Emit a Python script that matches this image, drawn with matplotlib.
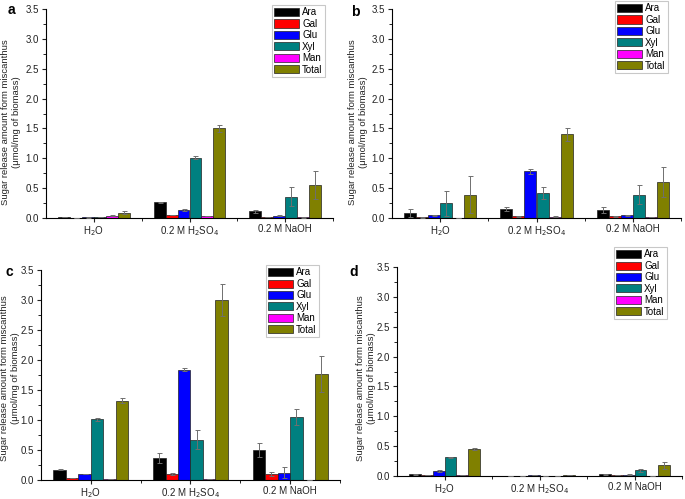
import matplotlib
matplotlib.use("Agg")
import matplotlib.pyplot as plt
import numpy as np
from matplotlib.ticker import MultipleLocator, FormatStrFormatter, FixedLocator

plt.rcParams['font.family'] = ['Liberation Sans', 'DejaVu Sans']

treatments = ["H$_2$O", "0.2 M H$_2$SO$_4$", "0.2 M NaOH"]
sugars = ["Ara", "Gal", "Glu", "Xyl", "Man", "Total"]
colors = ["#000000", "#ff0000", "#0000ff", "#008080", "#ff00ff", "#808000"]
ylabel_text = "Sugar release amount form miscanthus\n(\u03bcmol/mg of biomass)"

# values[sugar] = [H2O, H2SO4, NaOH]
a_vals = {"Ara": [0.01, 0.26, 0.11], "Gal": [0.005, 0.05, 0.02], "Glu": [0.015, 0.14, 0.04],
          "Xyl": [0.015, 1.01, 0.36], "Man": [0.04, 0.035, 0.015], "Total": [0.09, 1.50, 0.55]}
a_errs = {"Ara": [0.0, 0.01, 0.025], "Gal": [0.0, 0.0, 0.005], "Glu": [0.01, 0.015, 0.005],
          "Xyl": [0.005, 0.03, 0.16], "Man": [0.01, 0.0, 0.01], "Total": [0.02, 0.06, 0.23]}

b_vals = {"Ara": [0.08, 0.145, 0.13], "Gal": [0.01, 0.03, 0.03], "Glu": [0.045, 0.78, 0.045],
          "Xyl": [0.25, 0.42, 0.39], "Man": [0.0, 0.025, 0.02], "Total": [0.39, 1.40, 0.61]}
b_errs = {"Ara": [0.07, 0.035, 0.05], "Gal": [0.005, 0.005, 0.005], "Glu": [0.005, 0.04, 0.01],
          "Xyl": [0.21, 0.10, 0.16], "Man": [0.0, 0.005, 0.005], "Total": [0.31, 0.11, 0.25]}

c_vals = {"Ara": [0.17, 0.37, 0.50], "Gal": [0.035, 0.10, 0.10], "Glu": [0.095, 1.84, 0.12],
          "Xyl": [1.01, 0.67, 1.05], "Man": [0.01, 0.02, 0.0], "Total": [1.32, 3.00, 1.77]}
c_errs = {"Ara": [0.01, 0.08, 0.12], "Gal": [0.0, 0.02, 0.03], "Glu": [0.0, 0.02, 0.09],
          "Xyl": [0.03, 0.16, 0.13], "Man": [0.0, 0.005, 0.0], "Total": [0.04, 0.27, 0.30]}

d_vals = {"Ara": [0.03, 0.0, 0.03], "Gal": [0.015, 0.0, 0.015], "Glu": [0.08, 0.015, 0.025],
          "Xyl": [0.31, 0.0, 0.095], "Man": [0.01, 0.0, 0.005], "Total": [0.45, 0.02, 0.18]}
d_errs = {"Ara": [0.005, 0.0, 0.005], "Gal": [0.0, 0.0, 0.0], "Glu": [0.02, 0.005, 0.005],
          "Xyl": [0.01, 0.0, 0.02], "Man": [0.0, 0.0, 0.0], "Total": [0.02, 0.005, 0.06]}

W, H = 685, 499
fig = plt.figure(figsize=(W / 100, H / 100), dpi=100)

# (letter, values, errors, axes box px, legend anchor px, letter pos px, ylabel centre px)
panels = [
    ("a", a_vals, a_errs, (46, 333, 9, 218), (325, 5), (8, 10), (11, 122)),
    ("b", b_vals, b_errs, (392, 681, 9, 218), (668, 1), (351, 12), (358, 122)),
    ("c", c_vals, c_errs, (41, 340, 270, 480), (319, 265), (5, 272), (10, 378)),
    ("d", d_vals, d_errs, (397, 682, 267, 476), (667, 247), (349, 272), (366, 378)),
]

bw = 0.125
x = np.arange(1, len(treatments) + 1)
for letter, vals, errs, (l, r, t, b), (lgx, lgy), (px, py), (yx, yy) in panels:
    ax = fig.add_axes([l / W, 1 - b / H, (r - l) / W, (b - t) / H])
    handles = []
    for i, s in enumerate(sugars):
        xi = x + (i - 2.5) * bw
        bars = ax.bar(xi, vals[s], width=bw, color=colors[i], edgecolor="#222222",
                      linewidth=0.5, label=s, zorder=2)
        ax.errorbar(xi, vals[s], yerr=errs[s], fmt="none", ecolor="#6f6f6f",
                    elinewidth=0.7, capsize=1.8, capthick=0.7, zorder=3)
        handles.append(bars)
    ax.set_xlim(0.5, 3.5)
    ax.set_ylim(0, 3.5)
    ax.spines["top"].set_visible(False)
    ax.spines["right"].set_visible(False)
    ax.spines["left"].set_linewidth(0.8)
    ax.spines["bottom"].set_linewidth(0.8)
    ax.yaxis.set_major_locator(MultipleLocator(0.5))
    ax.yaxis.set_minor_locator(MultipleLocator(0.25))
    ax.yaxis.set_major_formatter(FormatStrFormatter("%.1f"))
    ax.set_xticks(x)
    ax.set_xticklabels(treatments)
    ax.xaxis.set_minor_locator(FixedLocator([1.5, 2.5, 3.5]))
    ax.tick_params(axis="both", which="major", direction="out", length=3, width=0.8,
                   labelsize=7, colors="#222222", labelcolor="#222222")
    ax.tick_params(axis="x", which="major", pad=1.5)
    ax.tick_params(axis="y", which="major", pad=2)
    ax.tick_params(axis="both", which="minor", direction="out", length=2, width=0.6)
    fig.text(yx / W, 1 - yy / H, ylabel_text, rotation=90, ha="center", va="center",
             multialignment="center", fontsize=6.8, linespacing=1.15, color="#222222")
    leg = ax.legend(handles=handles, labels=sugars, loc="upper right",
                    bbox_to_anchor=(lgx / W, 1 - lgy / H), bbox_transform=fig.transFigure,
                    fontsize=7, frameon=True, fancybox=False, edgecolor="#bbbbbb",
                    handlelength=2.6, handleheight=0.9, handletextpad=0.3,
                    labelspacing=0.15, borderpad=0.25, borderaxespad=0)
    leg.get_frame().set_linewidth(0.8)
    fig.text(px / W, 1 - py / H, letter, fontsize=10, fontweight="bold",
             ha="left", va="center")

fig.savefig("out.png", dpi=100)
